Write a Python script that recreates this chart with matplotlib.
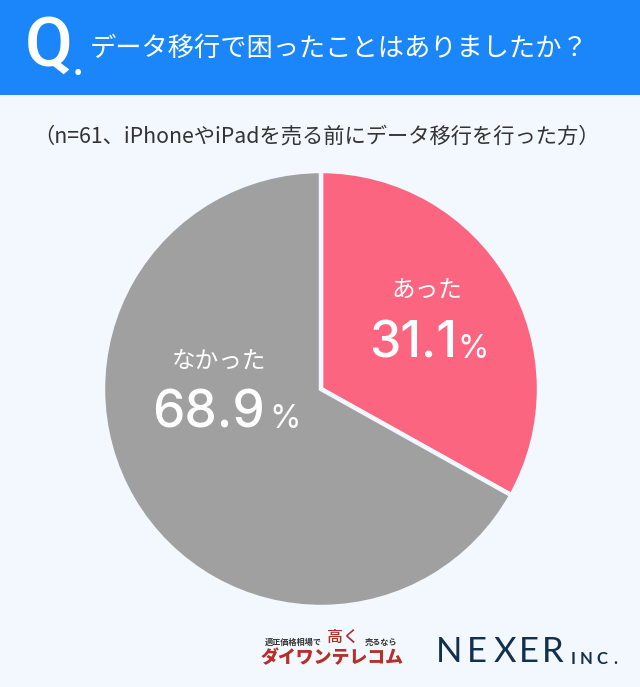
import matplotlib
matplotlib.use('Agg')
import matplotlib.pyplot as plt
from matplotlib.patches import Rectangle

labels = ['あった', 'なかった']
percents = ['31.1', '68.9']
# the slices in the picture are not drawn to the printed figures, these are read off the angle
slice_shares = [33.1, 66.9]
colors = ['#fb6580', '#a0a0a0']
question = 'データ移行で困ったことはありましたか？'
note = '（n=61、iPhoneやiPadを売る前にデータ移行を行った方）'

plt.rcParams['font.family'] = ['Noto Sans CJK JP', 'DejaVu Sans']

W, H = 640, 687
PAGE = '#f2f8fe'
fig = plt.figure(figsize=(W / 100, H / 100), dpi=100, facecolor=PAGE)

# page coordinates in pixels, y going down
bg = fig.add_axes([0, 0, 1, 1])
bg.set_xlim(0, W)
bg.set_ylim(H, 0)
bg.axis('off')
bg.add_patch(Rectangle((0, 0), W, 95, color='#1a86fa', lw=0))

bg.text(49, 47, 'Q', color='white', fontsize=50, fontweight='medium', family='Roboto',
        ha='center', va='center')
bg.text(78, 75, '.', color='white', fontsize=26, fontweight='bold', family='Roboto',
        ha='center', va='baseline')
bg.text(90, 48, question, color='white', fontsize=18.9, ha='left', va='center')
bg.text(316, 137, note, color='#333333', fontsize=15.3, ha='center', va='center')

# pie
cx, cy, r = 321, 389, 218
ax = fig.add_axes([(cx - r) / W, 1 - (cy + r) / H, 2 * r / W, 2 * r / H], zorder=1)
ax.pie(slice_shares, colors=colors, startangle=90, counterclock=False, radius=1,
       wedgeprops={'edgecolor': PAGE, 'linewidth': 3.2})
ax.set_xlim(-1, 1)
ax.set_ylim(-1, 1)
ax.patch.set_alpha(0)

top = fig.add_axes([0, 0, 1, 1], zorder=2)
top.set_xlim(0, W)
top.set_ylim(H, 0)
top.axis('off')

top.text(427, 291, labels[0], color='white', fontsize=17, ha='center', va='center')
top.text(369, 358, percents[0], color='white', fontsize=36, fontweight='medium',
         family='Inter', ha='left', va='baseline')
top.text(457, 358, '%', color='white', fontsize=23, family='Inter', ha='left', va='baseline')

top.text(219, 361, labels[1], color='white', fontsize=17, ha='center', va='center')
top.text(152, 428, percents[1], color='white', fontsize=37, fontweight='medium',
         family='Inter', ha='left', va='baseline')
top.text(269, 428, '%', color='white', fontsize=23, family='Inter', ha='left', va='baseline')

# logos
top.text(265, 642, '適正価格相場で', color='#333333', fontsize=5.9, fontweight='bold', ha='left', va='center')
top.text(343, 637, '高く', color='#a8322a', fontsize=11.5, fontweight='medium', ha='center', va='center')
top.text(365, 642, '売るなら', color='#333333', fontsize=5.9, fontweight='bold', ha='left', va='center')
top.text(332, 658, 'ダイワンテレコム', color='#b5302a', fontsize=12.9, fontweight='black',
         style='italic', ha='center', va='center')
nexer_x = [436, 467, 494, 519, 542]
for letter, x in zip('NEXER', nexer_x):
    top.text(x, 652, letter, color='#14304f', fontsize=25, family='Lato', ha='left', va='center')
inc_x = [571, 580, 596, 613]
for letter, x in zip(['I', 'N', 'C', '.'], inc_x):
    top.text(x, 659, letter, color='#14304f', fontsize=12, fontweight='bold', family='Lato',
             ha='left', va='center')

fig.savefig('out.png', dpi=100, facecolor=fig.get_facecolor())
